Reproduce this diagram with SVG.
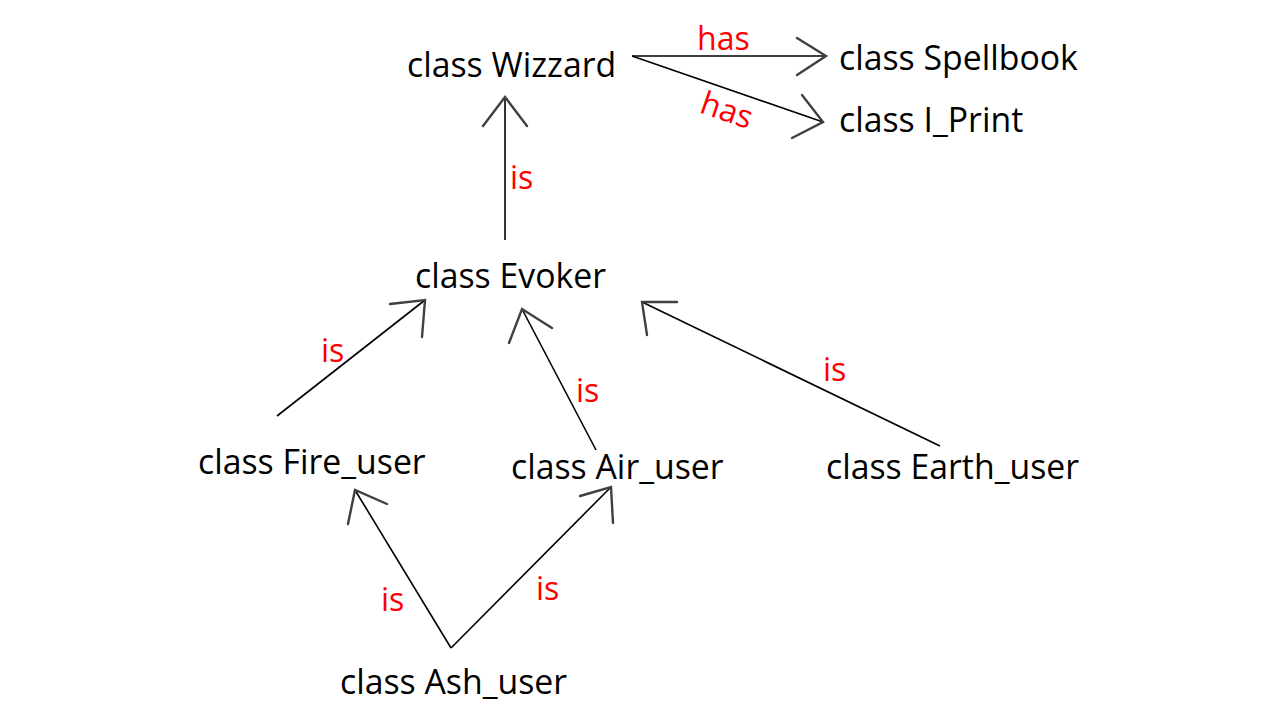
<svg xmlns="http://www.w3.org/2000/svg" width="1280" height="720" viewBox="0 0 1280 720">
<style>
.t{font-family:"Open Sans","Noto Sans","Liberation Sans",sans-serif;font-size:33.8px;fill:#000}
.l{font-family:"Open Sans","Noto Sans","Liberation Sans",sans-serif;font-size:32px;fill:#ff0000}
.e{stroke:#000;stroke-width:1.6;fill:none}
.h{stroke:#404040;stroke-width:2.4;fill:none;stroke-linecap:round;stroke-linejoin:miter}
</style>
<rect width="1280" height="720" fill="#fff"/>
<g id="connectors">
<line class="e" x1="632" y1="56" x2="826" y2="56"/>
<polyline class="h" points="797,38 826,56 797,75"/>
<line class="e" x1="632" y1="56" x2="823" y2="122"/>
<polyline class="h" points="802,95 823,122 792,138"/>
<line class="e" x1="505" y1="240" x2="505" y2="97"/>
<polyline class="h" points="483,126 505,97 527,126"/>
<line class="e" x1="277" y1="416" x2="425" y2="300"/>
<polyline class="h" points="390,304 425,300 422,337"/>
<line class="e" x1="596" y1="450" x2="522" y2="309"/>
<polyline class="h" points="509,343 522,309 552,328"/>
<line class="e" x1="940" y1="446" x2="642" y2="302"/>
<polyline class="h" points="677,302 642,302 647,335"/>
<line class="e" x1="451" y1="648" x2="355" y2="490"/>
<polyline class="h" points="387,504 355,490 348,524"/>
<line class="e" x1="451" y1="648" x2="611" y2="487"/>
<polyline class="h" points="580,496 611,487 613,523"/>
<text class="l" x="697" y="50">has</text>
<text class="l" x="696" y="120" transform="rotate(19 721 123)">has</text>
<text class="l" x="510" y="189">is</text>
<text class="l" x="321" y="362">is</text>
<text class="l" x="576" y="402">is</text>
<text class="l" x="823" y="381">is</text>
<text class="l" x="381" y="611">is</text>
<text class="l" x="536" y="600">is</text>
</g>
<g id="wizzard"><text class="t" x="407" y="77">class Wizzard</text></g>
<g id="spellbook"><text class="t" x="839" y="70">class Spellbook</text></g>
<g id="iprint"><text class="t" x="839" y="132">class I_Print</text></g>
<g id="evoker"><text class="t" x="415" y="288">class Evoker</text></g>
<g id="fire"><text class="t" x="198" y="474">class Fire_user</text></g>
<g id="air"><text class="t" x="511" y="479">class Air_user</text></g>
<g id="earth"><text class="t" x="826" y="479">class Earth_user</text></g>
<g id="ash"><text class="t" x="340" y="694">class Ash_user</text></g>
</svg>
